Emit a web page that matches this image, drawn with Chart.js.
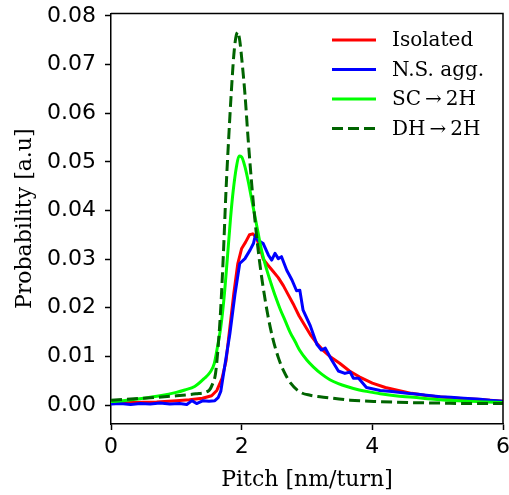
<!DOCTYPE html>
<html>
<head>
<meta charset="utf-8">
<script src="https://cdn.jsdelivr.net/npm/chart.js@4.4.1/dist/chart.umd.min.js"></script>
<style>
  html, body { margin: 0; padding: 0; background: #fff; }
  #wrap { width: 509px; height: 495px; }
</style>
</head>
<body>
<div id="wrap"><canvas id="pitchChart" width="509" height="495"></canvas></div>
<script>
// Pitch distributions (nm/turn) for each system
const isoPitch = [0, 0.3, 0.7, 1.0, 1.2, 1.4, 1.54, 1.62, 1.70, 1.76, 1.82, 1.88, 1.94, 2.00, 2.06, 2.12, 2.17, 2.22, 2.28, 2.33, 2.40, 2.48, 2.56, 2.64, 2.72, 2.80, 2.88, 2.96, 3.05, 3.15, 3.25, 3.35, 3.5, 3.65, 3.8, 4.0, 4.2, 4.4, 4.6, 4.8, 5.0, 5.2, 5.4, 5.6, 5.8, 6.0]
const isoProb = [0.0004, 0.0005, 0.0006, 0.0009, 0.0011, 0.0014, 0.0019, 0.0030, 0.0055, 0.0090, 0.0160, 0.0230, 0.0290, 0.0322, 0.0335, 0.0350, 0.0352, 0.0345, 0.0325, 0.0300, 0.0288, 0.0275, 0.0262, 0.0245, 0.0225, 0.0205, 0.0183, 0.0165, 0.0145, 0.0127, 0.0112, 0.0100, 0.0086, 0.0070, 0.0058, 0.0045, 0.0036, 0.0030, 0.0024, 0.0020, 0.0017, 0.0015, 0.0013, 0.0012, 0.0010, 0.0008]

const aggPitch = [0, 0.15, 0.3, 0.45, 0.6, 0.75, 0.9, 1.05, 1.16, 1.24, 1.31, 1.41, 1.5, 1.59, 1.64, 1.68, 1.74, 1.82, 1.90, 1.97, 2.05, 2.13, 2.18, 2.21, 2.25, 2.33, 2.41, 2.46, 2.51, 2.56, 2.61, 2.69, 2.77, 2.84, 2.89, 2.94, 3.05, 3.15, 3.22, 3.28, 3.38, 3.48, 3.58, 3.66, 3.71, 3.79, 3.91, 4.12, 4.3, 4.53, 4.7, 4.83, 5.04, 5.2, 5.4, 5.65, 5.8, 6.0]
const aggProb = [0.0002, 0.0003, 0.0001, 0.0003, 0.0002, 0.0004, 0.0002, 0.0003, 0.0001, 0.0009, 0.0003, 0.0009, 0.0008, 0.0009, 0.0015, 0.0028, 0.0079, 0.0147, 0.0230, 0.0291, 0.0301, 0.0319, 0.0332, 0.0349, 0.0339, 0.0332, 0.0308, 0.0298, 0.0312, 0.0301, 0.0305, 0.0277, 0.0257, 0.0235, 0.0236, 0.0195, 0.0163, 0.0125, 0.0113, 0.0117, 0.0092, 0.0070, 0.0065, 0.0068, 0.0055, 0.0055, 0.0036, 0.0030, 0.0028, 0.0024, 0.0022, 0.0020, 0.0017, 0.0016, 0.0014, 0.0012, 0.0010, 0.0008]

const scPitch = [0, 0.25, 0.5, 0.75, 1.0, 1.13, 1.28, 1.43, 1.52, 1.58, 1.63, 1.68, 1.73, 1.78, 1.83, 1.87, 1.92, 1.96, 2.00, 2.05, 2.10, 2.15, 2.20, 2.25, 2.31, 2.38, 2.45, 2.52, 2.59, 2.67, 2.74, 2.82, 2.89, 3.0, 3.1, 3.22, 3.35, 3.48, 3.61, 3.8, 4.0, 4.12, 4.35, 4.63, 4.85, 5.04, 5.3, 5.6, 6.0]
const scProb = [0.0007, 0.0010, 0.0014, 0.0019, 0.0026, 0.0031, 0.0038, 0.0055, 0.0068, 0.0085, 0.0120, 0.0160, 0.0220, 0.0300, 0.0385, 0.0440, 0.0490, 0.0512, 0.0510, 0.0490, 0.0460, 0.0425, 0.0390, 0.0355, 0.0315, 0.0280, 0.0250, 0.0222, 0.0197, 0.0172, 0.0150, 0.0130, 0.0112, 0.0092, 0.0078, 0.0064, 0.0052, 0.0044, 0.0038, 0.0031, 0.0026, 0.0023, 0.0019, 0.0016, 0.0013, 0.0011, 0.0009, 0.0007, 0.0005]

const dhPitch = [0, 0.5, 1.0, 1.3, 1.5, 1.55, 1.6, 1.64, 1.68, 1.72, 1.76, 1.80, 1.84, 1.88, 1.91, 1.94, 1.97, 2.01, 2.05, 2.10, 2.15, 2.20, 2.26, 2.32, 2.40, 2.48, 2.56, 2.65, 2.75, 2.89, 3.05, 3.2, 3.4, 3.66, 4.12, 4.6, 5.04, 5.5, 6.0]
const dhProb = [0.0010, 0.0014, 0.0019, 0.0023, 0.0030, 0.0042, 0.0065, 0.0120, 0.0200, 0.0310, 0.0440, 0.0545, 0.0640, 0.0720, 0.0755, 0.0767, 0.0750, 0.0700, 0.0640, 0.0545, 0.0460, 0.0385, 0.0310, 0.0250, 0.0185, 0.0135, 0.0098, 0.0068, 0.0045, 0.0027, 0.0020, 0.0017, 0.0014, 0.0010, 0.0007, 0.0005, 0.0004, 0.0003, 0.0003]

const seriesLabels = ["Isolated", "N.S. agg.", "SC\u2009\u2192\u20092H", "DH\u2009\u2192\u20092H"]
const xTicks = [0, 2, 4, 6]
const yTicks = [0, 0.01, 0.02, 0.03, 0.04, 0.05, 0.06, 0.07, 0.08]

const toPoints = (xs, ys) => xs.map((x, i) => ({ x: x, y: ys[i] }))

// legend drawn inside the upper right corner, plus the top/right frame
const frameLegend = {
  id: "frameLegend",
  afterDraw(chart) {
    const ctx = chart.ctx
    const area = chart.chartArea
    ctx.save()
    ctx.strokeStyle = "#000"
    ctx.lineWidth = 1.5
    ctx.beginPath()
    ctx.moveTo(area.left, area.top)
    ctx.lineTo(area.right, area.top)
    ctx.lineTo(area.right, area.bottom)
    ctx.stroke()

    const x0 = area.right - 171
    const rowY = [40, 69.5, 99, 128.5]
    ctx.font = "20px 'DejaVu Serif'"
    ctx.textBaseline = "middle"
    ctx.textAlign = "left"
    chart.data.datasets.forEach((ds, i) => {
      ctx.strokeStyle = ds.borderColor
      ctx.lineWidth = ds.borderWidth
      ctx.setLineDash(ds.borderDash || [])
      ctx.beginPath()
      ctx.moveTo(x0, rowY[i])
      ctx.lineTo(x0 + 44, rowY[i])
      ctx.stroke()
      ctx.setLineDash([])
      ctx.fillStyle = "#000"
      ctx.fillText(ds.label, x0 + 60, rowY[i] + 1)
    })
    ctx.restore()
  },
}

const ctx = document.getElementById("pitchChart").getContext("2d")
const pitchChart = new Chart(ctx, {
  type: "line",
  data: {
    datasets: [
      {
        label: seriesLabels[0],
        data: toPoints(isoPitch, isoProb),
        borderColor: "#ff0000",
        borderWidth: 3,
        order: 4,
      },
      {
        label: seriesLabels[1],
        data: toPoints(aggPitch, aggProb),
        borderColor: "#0000ff",
        borderWidth: 3,
        order: 3,
      },
      {
        label: seriesLabels[2],
        data: toPoints(scPitch, scProb),
        borderColor: "#00ff00",
        borderWidth: 3,
        cubicInterpolationMode: "monotone",
        order: 2,
      },
      {
        label: seriesLabels[3],
        data: toPoints(dhPitch, dhProb),
        borderColor: "#006400",
        borderWidth: 3,
        borderDash: [11, 5],
        cubicInterpolationMode: "monotone",
        order: 1,
      },
    ],
  },
  options: {
    responsive: false,
    animation: false,
    devicePixelRatio: 1,
    elements: {
      point: { radius: 0 },
      line: { fill: false, borderJoinStyle: "round" },
    },
    layout: { padding: { top: 13.5, right: 6, left: 0, bottom: 0 } },
    plugins: {
      legend: { display: false },
      tooltip: { enabled: false },
    },
    scales: {
      x: {
        type: "linear",
        min: 0,
        max: 6,
        afterBuildTicks: (scale) => {
          scale.ticks = xTicks.map((v) => ({ value: v }))
        },
        afterFit: (scale) => {
          scale.height = 71
          scale.paddingLeft = 0
          scale.paddingRight = 0
        },
        grid: { drawOnChartArea: false, tickLength: 6, tickColor: "#000", tickWidth: 1.5 },
        border: { color: "#000", width: 1.5 },
        ticks: {
          color: "#000",
          padding: 4,
          maxRotation: 0,
          font: { family: "DejaVu Sans", size: 22 },
          callback: (v) => String(v),
        },
        title: {
          display: true,
          text: "Pitch [nm/turn]",
          color: "#000",
          padding: { top: 0, bottom: 2 },
          font: { family: "DejaVu Serif", size: 22 },
        },
      },
      y: {
        type: "linear",
        min: -0.0039,
        max: 0.0805,
        afterBuildTicks: (scale) => {
          scale.ticks = yTicks.map((v) => ({ value: v }))
        },
        afterFit: (scale) => {
          scale.width = 111
          scale.paddingTop = 0
          scale.paddingBottom = 0
        },
        grid: { drawOnChartArea: false, tickLength: 6, tickColor: "#000", tickWidth: 1.5 },
        border: { color: "#000", width: 1.5 },
        ticks: {
          color: "#000",
          padding: 9,
          font: { family: "DejaVu Sans", size: 22 },
          callback: (v) => v.toFixed(2),
        },
        title: {
          display: true,
          text: "Probability [a.u]",
          color: "#000",
          padding: { top: 12, bottom: 0 },
          font: { family: "DejaVu Serif", size: 22 },
        },
      },
    },
  },
  plugins: [frameLegend],
})
</script>
</body>
</html>
